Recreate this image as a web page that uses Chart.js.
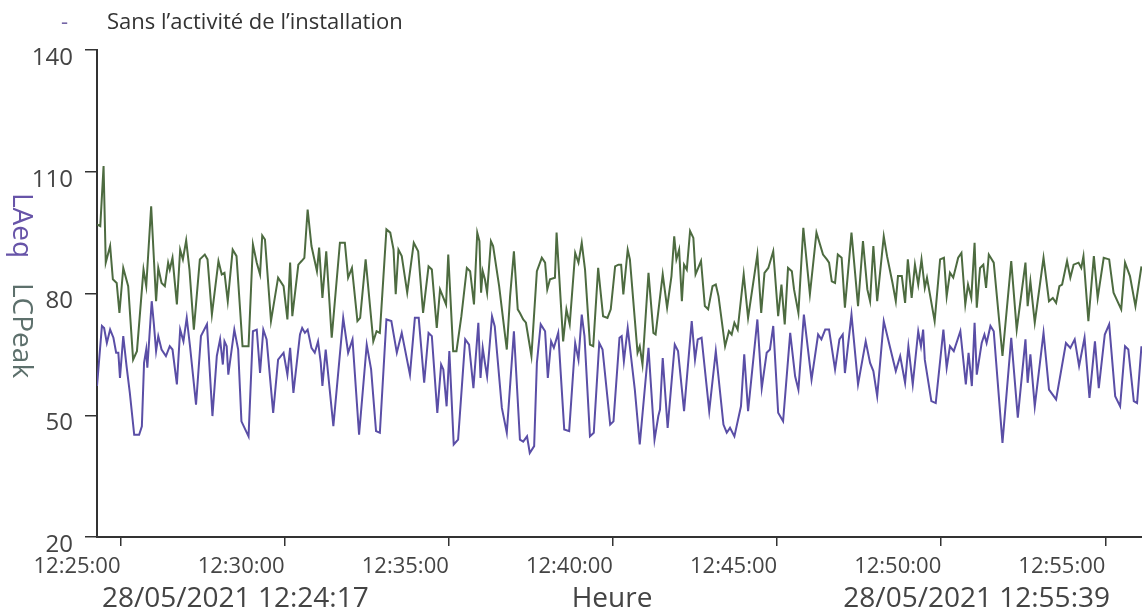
<!DOCTYPE html>
<html lang="fr">
<head>
<meta charset="utf-8">
<title>Sans l'activité de l'installation</title>
<script src="https://cdn.jsdelivr.net/npm/chart.js@4.4.1/dist/chart.umd.min.js"></script>
<style>
  html, body { margin: 0; padding: 0; background: #fff; }
  canvas { display: block; }
</style>
</head>
<body>
<canvas id="chart" width="1142" height="613"></canvas>
<script>
// -------------------------------------------------------
// DATA
// times are seconds after the first sample (28/05/2021 12:24:17)
const TITLE = "Sans l’activité de l’installation";
const START_DATE = "28/05/2021";
const START_TIME = "12:24:17";
const END_TIME = "12:55:39";
const X_TITLE = "Heure";
const X_MAX_SECONDS = 1910;
const X_TICK_LABELS = ["12:25:00", "12:30:00", "12:35:00", "12:40:00", "12:45:00", "12:50:00", "12:55:00"];
const Y_TICKS = [20, 50, 80, 110, 140];

// LCPeak (green)
const lcpeakTimes = [
  0, 6, 12, 16, 24, 29, 36, 41, 48, 57, 66, 73, 85, 90, 99, 108, 112, 118, 124, 130,
  133, 138, 146, 152, 157, 163, 169, 177, 188, 197, 202, 210, 222, 228, 233, 239, 248, 255, 266, 277,
  285, 292, 298, 302, 307, 318, 331, 341, 348, 353, 357, 368, 374, 379, 385, 392, 402, 406, 412, 419,
  429, 444, 453, 459, 466, 476, 481, 491, 505, 511, 517, 529, 536, 542, 546, 551, 557, 567, 579, 587,
  596, 606, 612, 621, 627, 638, 642, 651, 657, 666, 676, 682, 689, 695, 699, 702, 705, 709, 713, 720,
  724, 735, 746, 749, 755, 762, 769, 773, 779, 784, 794, 804, 813, 819, 823, 828, 837, 840, 852, 858,
  864, 874, 880, 886, 892, 901, 907, 916, 925, 933, 939, 947, 953, 958, 962, 970, 974, 988, 992, 997,
  1008, 1017, 1021, 1034, 1042, 1050, 1055, 1059, 1064, 1069, 1073, 1078, 1084, 1090, 1094, 1104, 1111, 1117, 1125, 1131,
  1136, 1148, 1155, 1160, 1165, 1171, 1182, 1190, 1207, 1214, 1220, 1227, 1236, 1245, 1251, 1257, 1263, 1270, 1274, 1282,
  1291, 1303, 1315, 1327, 1334, 1338, 1343, 1349, 1354, 1361, 1367, 1379, 1391, 1400, 1408, 1413, 1419, 1426, 1438, 1444,
  1454, 1460, 1464, 1471, 1477, 1482, 1489, 1495, 1501, 1507, 1513, 1517, 1531, 1541, 1548, 1553, 1559, 1565, 1574, 1580,
  1587, 1592, 1598, 1604, 1608, 1614, 1620, 1625, 1630, 1639, 1655, 1671, 1681, 1697, 1701, 1706, 1714, 1730, 1740, 1747,
  1753, 1759, 1764, 1773, 1779, 1785, 1794, 1799, 1803, 1812, 1822, 1829, 1840, 1850, 1858, 1872, 1879, 1888, 1898, 1909
];
const lcpeakValues = [
  97.0, 96.6, 111.4, 87.6, 91.7, 83.5, 82.6, 75.2, 86.3, 81.8, 63.7, 65.8, 85.9, 81.8, 101.5, 78.1, 86.3, 82.6, 81.8, 87.6,
  85.9, 88.8, 77.3, 90.8, 88.4, 93.1, 85.9, 71.1, 88.4, 89.6, 88.4, 74.8, 88.0, 84.7, 85.1, 78.1, 90.8, 89.2, 67.0, 67.0,
  92.1, 87.6, 84.7, 94.3, 93.3, 73.2, 83.9, 81.8, 73.6, 87.6, 74.4, 87.1, 88.0, 88.8, 100.7, 91.7, 85.5, 91.3, 78.9, 90.4,
  69.1, 92.5, 92.5, 83.9, 86.3, 73.2, 74.0, 88.4, 68.2, 70.7, 70.3, 95.8, 95.0, 90.8, 79.8, 90.8, 89.2, 80.2, 92.5, 90.4,
  75.2, 86.7, 85.9, 71.5, 81.0, 77.3, 89.6, 65.8, 65.8, 74.4, 86.3, 85.5, 77.3, 95.0, 92.9, 80.2, 85.5, 83.5, 80.2, 92.9,
  91.7, 81.8, 69.5, 66.2, 79.3, 90.4, 76.1, 75.2, 73.6, 72.8, 64.6, 85.5, 88.8, 87.6, 81.0, 83.5, 83.9, 95.0, 68.2, 76.1,
  72.4, 90.0, 87.6, 92.5, 85.9, 67.4, 67.0, 86.3, 74.4, 74.0, 76.1, 86.7, 87.1, 87.1, 79.8, 90.8, 88.4, 65.4, 67.0, 62.5,
  85.1, 70.3, 69.9, 84.7, 76.5, 84.3, 94.1, 88.4, 90.8, 78.1, 87.1, 85.9, 95.4, 93.7, 84.7, 88.0, 76.9, 76.1, 81.8, 82.2,
  79.3, 67.0, 70.7, 69.9, 72.8, 71.1, 84.7, 74.0, 89.6, 75.2, 85.1, 86.3, 90.4, 74.4, 82.2, 72.4, 86.3, 85.5, 81.0, 75.2,
  96.2, 79.8, 95.0, 89.6, 88.4, 87.6, 83.0, 82.6, 89.6, 88.8, 76.5, 95.0, 76.9, 92.9, 81.0, 78.1, 91.7, 78.1, 94.1, 89.2,
  82.6, 78.1, 84.3, 84.3, 77.7, 88.4, 78.9, 87.1, 82.2, 88.4, 81.4, 83.9, 73.2, 88.4, 88.8, 79.3, 85.1, 83.9, 88.8, 90.0,
  77.3, 82.2, 78.9, 92.5, 76.5, 86.3, 87.1, 81.4, 89.6, 87.6, 64.6, 88.0, 71.1, 87.6, 76.9, 83.0, 72.8, 88.8, 78.1, 78.9,
  77.7, 81.8, 82.2, 88.0, 83.9, 87.1, 87.6, 86.3, 89.2, 73.2, 89.2, 78.9, 88.8, 88.4, 80.2, 76.1, 87.6, 84.3, 76.9, 86.7
];

// LAeq (purple)
const laeqTimes = [
  0, 9, 13, 18, 24, 30, 35, 39, 42, 48, 54, 60, 68, 77, 82, 86, 90, 92, 100, 104,
  108, 112, 118, 126, 133, 138, 146, 152, 158, 164, 170, 181, 190, 201, 211, 219, 225, 230, 233, 237,
  240, 251, 258, 264, 277, 285, 292, 298, 304, 310, 322, 331, 341, 348, 353, 359, 371, 375, 380, 385,
  392, 398, 404, 409, 412, 418, 432, 450, 459, 467, 479, 493, 501, 510, 517, 529, 538, 548, 557, 572,
  581, 588, 598, 606, 612, 622, 629, 633, 639, 644, 652, 660, 673, 680, 688, 697, 701, 705, 709, 713,
  722, 727, 740, 749, 762, 773, 779, 786, 791, 799, 804, 811, 819, 824, 830, 835, 843, 854, 863, 874,
  880, 886, 891, 901, 908, 918, 924, 938, 944, 955, 959, 963, 970, 983, 992, 1008, 1019, 1026, 1029, 1034,
  1043, 1056, 1062, 1073, 1087, 1093, 1098, 1105, 1119, 1131, 1145, 1151, 1157, 1165, 1177, 1183, 1190, 1207, 1215, 1224,
  1230, 1236, 1245, 1254, 1267, 1276, 1282, 1292, 1306, 1318, 1324, 1331, 1338, 1349, 1357, 1363, 1367, 1379, 1391, 1405,
  1413, 1419, 1426, 1438, 1449, 1460, 1468, 1477, 1483, 1491, 1501, 1506, 1510, 1513, 1525, 1533, 1547, 1553, 1559, 1566,
  1578, 1588, 1593, 1599, 1604, 1608, 1617, 1622, 1626, 1633, 1639, 1655, 1671, 1683, 1697, 1701, 1706, 1714, 1730, 1740,
  1753, 1771, 1779, 1787, 1795, 1805, 1814, 1824, 1831, 1842, 1850, 1861, 1870, 1879, 1885, 1895, 1901, 1909
];
const laeqValues = [
  57.2, 72.0, 71.5, 67.8, 71.1, 69.1, 65.4, 65.4, 59.2, 69.5, 62.1, 55.5, 45.2, 45.2, 47.3, 62.9, 66.2, 61.7, 78.1, 72.4,
  65.8, 69.5, 66.2, 64.6, 67.0, 66.2, 57.6, 71.1, 68.2, 74.0, 67.0, 52.6, 69.5, 72.4, 49.8, 64.6, 68.7, 62.5, 68.2, 67.0,
  60.0, 71.1, 66.2, 48.5, 44.8, 70.7, 71.1, 60.4, 71.1, 68.7, 50.6, 63.7, 65.4, 60.0, 66.6, 55.5, 69.9, 71.5, 70.3, 71.1,
  66.6, 65.4, 68.2, 62.9, 57.2, 66.2, 47.3, 74.0, 65.4, 68.7, 45.2, 67.4, 61.3, 46.1, 45.7, 73.6, 73.2, 65.4, 70.3, 60.0,
  74.0, 74.0, 58.0, 70.3, 69.5, 50.6, 62.5, 61.3, 52.2, 65.8, 42.8, 44.0, 68.7, 67.4, 56.7, 72.8, 59.2, 66.6, 62.9, 59.6,
  74.4, 71.9, 51.8, 45.7, 70.7, 44.0, 43.5, 44.8, 40.7, 42.4, 62.9, 72.4, 70.7, 59.2, 68.2, 66.6, 70.3, 46.5, 46.1, 67.8,
  63.7, 74.8, 69.5, 44.8, 45.7, 67.8, 66.2, 47.7, 48.5, 69.1, 69.5, 63.3, 71.5, 56.3, 42.8, 66.6, 44.0, 49.8, 51.4, 64.1,
  46.9, 67.4, 65.8, 51.0, 73.2, 63.7, 68.7, 69.1, 51.0, 65.8, 47.7, 45.7, 46.9, 44.8, 52.2, 65.0, 51.0, 73.6, 56.7, 65.4,
  66.2, 72.0, 50.6, 48.5, 70.3, 59.6, 56.3, 74.8, 58.8, 69.9, 68.7, 71.1, 71.1, 61.3, 68.7, 69.9, 60.4, 74.8, 57.6, 68.2,
  62.9, 60.9, 54.7, 73.2, 67.0, 60.9, 64.6, 58.0, 67.0, 57.6, 70.7, 67.0, 71.1, 63.7, 53.5, 53.0, 71.1, 61.7, 67.0, 65.8,
  70.7, 57.6, 65.4, 57.2, 72.8, 60.0, 67.8, 69.9, 67.8, 72.0, 70.7, 43.2, 69.1, 49.4, 68.7, 58.0, 65.0, 52.2, 70.3, 56.3,
  53.9, 67.8, 66.6, 68.7, 62.1, 69.1, 54.3, 68.2, 56.7, 69.9, 72.4, 54.7, 52.2, 67.0, 66.2, 53.5, 53.0, 67.0
];

// -------------------------------------------------------
// HELPERS
function clockToSeconds(str) {
  const [h, m, s] = str.split(":").map(Number);
  return h * 3600 + m * 60 + s;
}
const START_SECONDS = clockToSeconds(START_TIME);

function secondsToClock(sec) {
  const t = Math.round(START_SECONDS + sec);
  const pad = (n) => String(n).padStart(2, "0");
  return `${pad(Math.floor(t / 3600))}:${pad(Math.floor(t / 60) % 60)}:${pad(t % 60)}`;
}

const toPoints = (times, values) => times.map((t, i) => ({ x: t, y: values[i] }));

// -------------------------------------------------------
// EXTRA TEXT (title, dates, two-colour y title)
const extraText = {
  id: "extraText",
  afterDraw(chart) {
    const ctx = chart.ctx;
    ctx.save();
    ctx.textBaseline = "alphabetic";

    // heading
    ctx.font = "22px 'Open Sans', sans-serif";
    ctx.fillStyle = "#7465a6";
    ctx.textAlign = "left";
    ctx.fillText("-", 61, 29);
    ctx.fillStyle = "#333";
    ctx.fillText(TITLE, 107, 29);

    // start / end of measurement + axis name
    ctx.font = "28px 'Open Sans', sans-serif";
    ctx.fillStyle = "#444";
    ctx.fillText(`${START_DATE} ${START_TIME}`, 102, 607);
    ctx.textAlign = "right";
    ctx.fillText(`${START_DATE} ${END_TIME}`, 1110, 607);
    ctx.textAlign = "center";
    ctx.fillText(X_TITLE, 612, 607);

    // y title, rotated clockwise
    ctx.translate(13, 193);
    ctx.rotate(Math.PI / 2);
    ctx.textAlign = "left";
    ctx.font = "28px 'Open Sans', sans-serif";
    ctx.fillStyle = "#6754a8";
    ctx.fillText("LAeq", 0, 0);
    ctx.fillStyle = "#5d706c";
    ctx.fillText("LCPeak", 90, 0);
    ctx.restore();
  },
};

// -------------------------------------------------------
// CHART
Chart.defaults.font.family = "'Open Sans', sans-serif";

new Chart(document.getElementById("chart"), {
  type: "line",
  data: {
    datasets: [
      {
        label: "LCPeak",
        data: toPoints(lcpeakTimes, lcpeakValues),
        borderColor: "#4d6b40",
        borderWidth: 2,
        pointRadius: 0,
        tension: 0,
      },
      {
        label: "LAeq",
        data: toPoints(laeqTimes, laeqValues),
        borderColor: "#5a4ea6",
        borderWidth: 2,
        pointRadius: 0,
        tension: 0,
      },
    ],
  },
  options: {
    responsive: false,
    devicePixelRatio: 1,
    animation: false,
    layout: { padding: { top: 50, left: 0, right: 0, bottom: 0 } },
    plugins: { legend: { display: false }, tooltip: { enabled: false } },
    scales: {
      x: {
        type: "linear",
        min: 0,
        max: X_MAX_SECONDS,
        afterBuildTicks: (s) => {
          s.ticks = X_TICK_LABELS.map((l) => ({ value: clockToSeconds(l) - START_SECONDS }));
        },
        afterFit: (s) => { s.height = 76; },
        grid: { drawOnChartArea: false, tickLength: 9, color: "#333", lineWidth: 1.5 },
        border: { color: "#333", width: 2 },
        ticks: {
          align: "end",
          autoSkip: false,
          maxRotation: 0,
          padding: 8,
          color: "#444",
          font: { size: 22 },
          callback: (v) => secondsToClock(v),
        },
      },
      y: {
        min: 20,
        max: 140,
        afterBuildTicks: (s) => { s.ticks = Y_TICKS.map((v) => ({ value: v })); },
        afterFit: (s) => { s.width = 97; },
        grid: { drawOnChartArea: false, tickLength: 12, color: "#333", lineWidth: 1.5 },
        border: { color: "#333", width: 2 },
        ticks: { padding: 12, labelOffset: 8, color: "#444", font: { size: 24 } },
      },
    },
  },
  plugins: [extraText],
});
</script>
</body>
</html>
